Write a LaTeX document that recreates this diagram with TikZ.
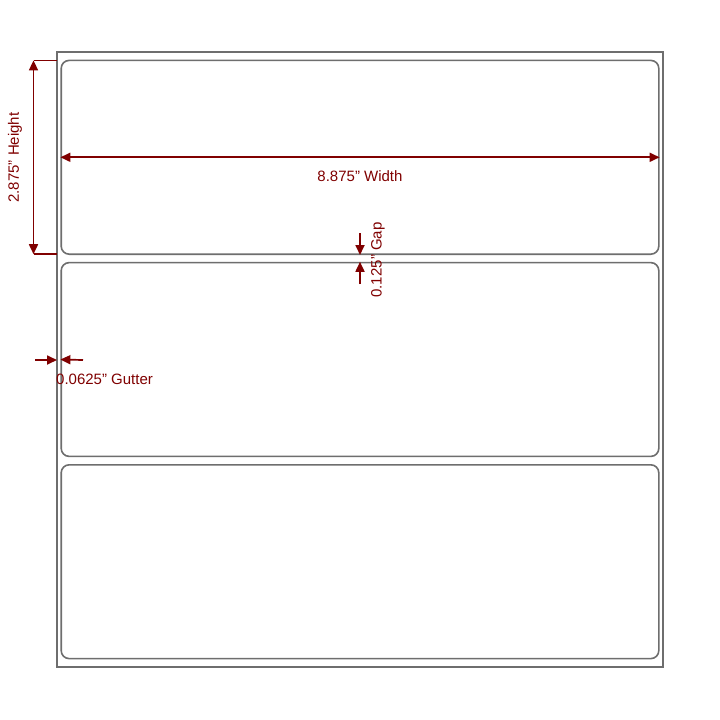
\documentclass[tikz,border=0pt]{standalone}
\usepackage{fontspec}
\setmainfont{Liberation Sans}
\usetikzlibrary{arrows.meta}
\definecolor{dimred}{RGB}{128,0,0}
\definecolor{edgegray}{RGB}{110,110,110}
\begin{document}
\begin{tikzpicture}[x=1pt,y=-1pt,
  sheetbox/.style={draw=edgegray,line width=1.6pt,inner sep=0pt,minimum width=606pt,minimum height=615pt},
  labelbox/.style={draw=edgegray,line width=1.6pt,rounded corners=8pt,inner sep=0pt,minimum width=597.6pt,minimum height=193.8pt},
  dimline/.style={draw=dimred,line width=1.7pt},
  dimarrow/.style={dimline,-{Triangle[length=10pt,width=9pt]}},
  dimboth/.style={dimline,{Triangle[length=10pt,width=9pt]}-{Triangle[length=10pt,width=9pt]}},
  dimtext/.style={text=dimred,font=\fontsize{15pt}{17pt}\selectfont,inner sep=0pt}]
\useasboundingbox (0,0) rectangle (720,720);
\fill[white] (0,0) rectangle (720,720);
\node[sheetbox] (sheet) at (360,359.5) {};
\node[labelbox] (l1) at (360,157.3) {};
\node[labelbox] (l2) at (360,359.5) {};
\node[labelbox] (l3) at (360,561.7) {};
% height dimension
\coordinate (ht) at (33.5,60.4);
\coordinate (hb) at (33.5,254.2);
\coordinate (hte) at (57,60.4);
\coordinate (hbe) at (57,254.2);
\draw[dimline] (ht) -- (hte);
\draw[dimline] (hb) -- (hbe);
\draw[dimboth] (ht) -- (hb);
\node[dimtext,rotate=90] (htext) at (15,157.5) {2.875\symbol{34} Height};
% width dimension
\draw[dimboth] (l1.west) -- (l1.east);
\node[dimtext] (wtext) at (360,176) {8.875\symbol{34} Width};
% gap
\coordinate (g1) at (360,233);
\coordinate (g2) at (360,284);
\draw[dimarrow] (g1) -- (l1.south);
\draw[dimarrow] (g2) -- (l2.north);
\node[dimtext,rotate=90] (gtext) at (378,260) {0.125\symbol{34} Gap};
% gutter
\coordinate (u1) at (35,360);
\coordinate (u2) at (83,360);
\coordinate (us) at (57,360);
\draw[dimarrow] (u1) -- (us);
\draw[dimarrow] (u2) -- (l2.west);
\node[dimtext,anchor=west] (utext) at (56,379) {0.0625\symbol{34} Gutter};
\end{tikzpicture}
\end{document}
